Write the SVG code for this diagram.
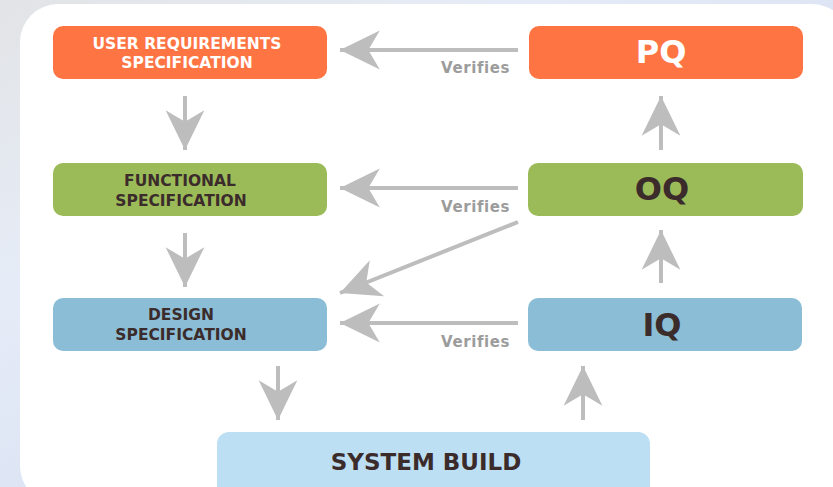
<svg xmlns="http://www.w3.org/2000/svg" width="833" height="487" viewBox="0 0 833 487">
<style>
.box{stroke:none}
.t{font-family:"DejaVu Sans",Verdana,sans-serif;font-weight:bold;text-anchor:middle}
.small{font-size:15.5px}
.big{font-size:32px}
.w{fill:#ffffff}
.d{fill:#3b2b2b}
.conn line{stroke:#bdbdbd;stroke-width:4;fill:none}
.lbl{font-family:"DejaVu Sans",Verdana,sans-serif;font-weight:bold;font-size:15px;fill:#9c9c9c;letter-spacing:0.6px}
</style>
<defs>
<linearGradient id="bg" x1="0" y1="0" x2="1" y2="1">
<stop offset="0" stop-color="#e2e4e6"/>
<stop offset="0.3" stop-color="#e6ecf7"/>
<stop offset="1" stop-color="#c9d5f0"/>
</linearGradient>
<marker id="ah" markerUnits="userSpaceOnUse" markerWidth="44" markerHeight="44" viewBox="-40 -20 42 40" refX="0" refY="0" orient="auto">
<path d="M0,0 L-38,-18.5 L-27,0 L-38,18.5 Z" fill="#bdbdbd"/>
</marker>
</defs>
<rect x="0" y="0" width="833" height="487" fill="url(#bg)"/>
<rect x="20" y="4" width="830" height="500" rx="38" fill="#ffffff"/>

<g class="conn">
<line x1="518" y1="50" x2="340" y2="50" marker-end="url(#ah)"/>
<line x1="518" y1="188" x2="340" y2="188" marker-end="url(#ah)"/>
<line x1="518" y1="323" x2="340" y2="323" marker-end="url(#ah)"/>
<line x1="518" y1="222" x2="340" y2="293" marker-end="url(#ah)"/>
<line x1="185" y1="96" x2="185" y2="150" marker-end="url(#ah)"/>
<line x1="185" y1="233" x2="185" y2="287" marker-end="url(#ah)"/>
<line x1="278" y1="366" x2="278" y2="420" marker-end="url(#ah)"/>
<line x1="661" y1="150" x2="661" y2="96" marker-end="url(#ah)"/>
<line x1="661" y1="283" x2="661" y2="230" marker-end="url(#ah)"/>
<line x1="583" y1="420" x2="583" y2="366" marker-end="url(#ah)"/>
<text class="lbl" x="441" y="73">Verifies</text>
<text class="lbl" x="441" y="212">Verifies</text>
<text class="lbl" x="441" y="347">Verifies</text>
</g>

<g id="urs">
<rect class="box" x="53" y="26" width="274" height="53" rx="10" fill="#ff7443"/>
<text class="t small w" x="187" y="49">USER REQUIREMENTS</text>
<text class="t small w" x="187" y="68">SPECIFICATION</text>
</g>
<g id="pq">
<rect class="box" x="529" y="26" width="274" height="53" rx="10" fill="#ff7443"/>
<text class="t big w" x="661" y="63">PQ</text>
</g>
<g id="fs">
<rect class="box" x="53" y="163" width="274" height="53" rx="10" fill="#9bbb59"/>
<text class="t small d" x="180" y="186">FUNCTIONAL</text>
<text class="t small d" x="181" y="206">SPECIFICATION</text>
</g>
<g id="oq">
<rect class="box" x="528" y="163" width="275" height="53" rx="10" fill="#9bbb59"/>
<text class="t big d" x="662" y="200">OQ</text>
</g>
<g id="ds">
<rect class="box" x="53" y="298" width="274" height="53" rx="10" fill="#8bbed6"/>
<text class="t small d" x="181" y="320">DESIGN</text>
<text class="t small d" x="181" y="340">SPECIFICATION</text>
</g>
<g id="iq">
<rect class="box" x="528" y="298" width="274" height="53" rx="10" fill="#8bbed6"/>
<text class="t big d" x="662" y="336">IQ</text>
</g>
<g id="sb">
<rect class="box" x="217" y="432" width="433" height="70" rx="12" fill="#bddff3"/>
<text class="t d" style="font-size:23px" x="426" y="470">SYSTEM BUILD</text>
</g>
</svg>
